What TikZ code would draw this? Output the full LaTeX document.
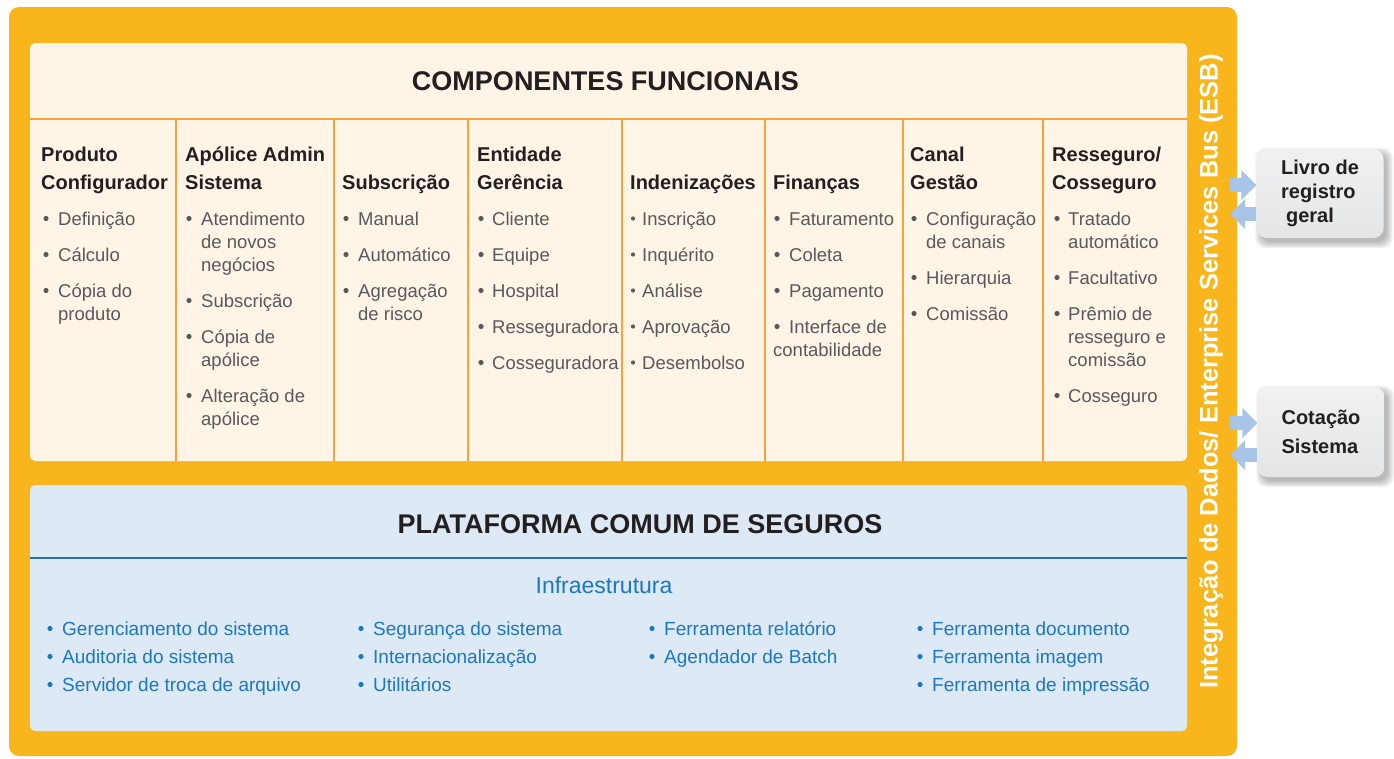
\documentclass[tikz,border=0pt]{standalone}
\usepackage{fontspec}
\setmainfont{Liberation Sans}
\usetikzlibrary{backgrounds,arrows.meta,calc}
\definecolor{orangebg}{HTML}{F8B61C}
\definecolor{cream}{HTML}{FEF5E7}
\definecolor{divider}{HTML}{F7A23B}
\definecolor{bluebg}{HTML}{DDEAF6}
\definecolor{blueline}{HTML}{2A6FBE}
\definecolor{bluetext}{HTML}{1C77C3}
\definecolor{darktext}{HTML}{231F20}
\definecolor{graytext}{HTML}{58595B}
\definecolor{boxgray}{HTML}{E4E5E6}
\definecolor{arrowblue}{HTML}{A8C4E7}
\newcommand\colhd[3]{\node[hdr] at (#1,#2) {#3};}
\newcommand\coltx[3]{\node[btx] at (#1,#2) {#3};}
\newcommand\coldot[2]{\fill[graytext] (#1,#2-6.5) circle[radius=2.6pt];}
\newcommand\smalldot[2]{\fill[graytext] (#1,#2-6.5) circle[radius=2.1pt];}
\newcommand\bluei[4]{\fill[bluetext] (#1,#3-6.5) circle[radius=2.6pt];\node[bitx] at (#2,#3) {#4};}
\begin{document}
\begin{tikzpicture}[x=1pt,y=-1pt,
  hdr/.style={anchor=base west, inner sep=0pt, font=\fontsize{20}{24}\selectfont\bfseries, text=darktext},
  btx/.style={anchor=base west, inner sep=0pt, font=\fontsize{18.5}{22}\selectfont, text=graytext},
  bitx/.style={anchor=base west, inner sep=0pt, font=\fontsize{19}{22}\selectfont, text=bluetext},
  titlef/.style={anchor=base, inner sep=0pt, font=\fontsize{27}{30}\selectfont\bfseries, text=darktext},
  sidebox/.style={draw=none, top color=boxgray!55!white, bottom color=boxgray, rounded corners=10pt,
    minimum width=127pt, minimum height=89pt,
    align=left, inner sep=0pt, text=darktext, font=\fontsize{20}{24}\selectfont\bfseries},
  flow/.style={draw=arrowblue, line width=13.5pt, -{Triangle[width=29pt,length=15pt]}}]
\useasboundingbox (0,0) rectangle (1394,758);

% outer orange frame
\fill[orangebg, rounded corners=10pt] (9,7) rectangle (1237,756);

% functional components
\fill[cream, rounded corners=5pt] (30,43) rectangle (1187,461);
\draw[divider, line width=2pt] (30,119) -- (1187,119);
\foreach \xx in {176,334,468,622,765,903,1043}
  \draw[divider, line width=2.5pt] (\xx,119) -- (\xx,461);
\node[titlef] (comp) at (605.5,90.5) {COMPONENTES FUNCIONAIS};

% column 1
\colhd{41}{161}{Produto}
\colhd{41}{189}{Configurador}
\coldot{46}{225}\coltx{58}{225}{Definição}
\coldot{46}{261}\coltx{58}{261}{Cálculo}
\coldot{46}{297}\coltx{58}{297}{Cópia do}\coltx{58}{320}{produto}

% column 2
\colhd{185}{161}{Apólice Admin}
\colhd{185}{189}{Sistema}
\coldot{189}{225}\coltx{201}{225}{Atendimento}\coltx{201}{248}{de novos}\coltx{201}{271}{negócios}
\coldot{189}{307}\coltx{201}{307}{Subscrição}
\coldot{189}{343}\coltx{201}{343}{Cópia de}\coltx{201}{366}{apólice}
\coldot{189}{402}\coltx{201}{402}{Alteração de}\coltx{201}{425}{apólice}

% column 3
\colhd{342}{189}{Subscrição}
\coldot{346}{225}\coltx{358}{225}{Manual}
\coldot{346}{261}\coltx{358}{261}{Automático}
\coldot{346}{297}\coltx{358}{297}{Agregação}\coltx{358}{320}{de risco}

% column 4
\colhd{477}{161}{Entidade}
\colhd{477}{189}{Gerência}
\coldot{481}{225}\coltx{492}{225}{Cliente}
\coldot{481}{261}\coltx{492}{261}{Equipe}
\coldot{481}{297}\coltx{492}{297}{Hospital}
\coldot{481}{333}\coltx{492}{333}{Resseguradora}
\coldot{481}{369}\coltx{492}{369}{Cosseguradora}

% column 5
\colhd{630}{189}{Indenizações}
\smalldot{633}{225}\coltx{642}{225}{Inscrição}
\smalldot{633}{261}\coltx{642}{261}{Inquérito}
\smalldot{633}{297}\coltx{642}{297}{Análise}
\smalldot{633}{333}\coltx{642}{333}{Aprovação}
\smalldot{633}{369}\coltx{642}{369}{Desembolso}

% column 6
\colhd{773}{189}{Finanças}
\coldot{777}{225}\coltx{789}{225}{Faturamento}
\coldot{777}{261}\coltx{789}{261}{Coleta}
\coldot{777}{297}\coltx{789}{297}{Pagamento}
\coldot{777}{333}\coltx{789}{333}{Interface de}\coltx{773}{356}{contabilidade}

% column 7
\colhd{910}{161}{Canal}
\colhd{910}{189}{Gestão}
\coldot{914}{225}\coltx{926}{225}{Configuração}\coltx{926}{248}{de canais}
\coldot{914}{284}\coltx{926}{284}{Hierarquia}
\coldot{914}{320}\coltx{926}{320}{Comissão}

% column 8
\colhd{1052}{161}{Resseguro/}
\colhd{1052}{189}{Cosseguro}
\coldot{1057}{225}\coltx{1068}{225}{Tratado}\coltx{1068}{248}{automático}
\coldot{1057}{284}\coltx{1068}{284}{Facultativo}
\coldot{1057}{320}\coltx{1068}{320}{Prêmio de}\coltx{1068}{343}{resseguro e}\coltx{1068}{366}{comissão}
\coldot{1057}{402}\coltx{1068}{402}{Cosseguro}

% common platform
\fill[bluebg, rounded corners=5pt] (30,485) rectangle (1187,731);
\draw[blueline, line width=2.2pt] (30,558) -- (1187,558);
\node[titlef] (plat) at (640,533) {PLATAFORMA COMUM DE SEGUROS};
\node[anchor=base, inner sep=0pt, font=\fontsize{23}{26}\selectfont, text=bluetext] (infra) at (604,593) {Infraestrutura};

\bluei{50}{62}{635}{Gerenciamento do sistema}
\bluei{50}{62}{663}{Auditoria do sistema}
\bluei{50}{62}{691}{Servidor de troca de arquivo}
\bluei{361}{373}{635}{Segurança do sistema}
\bluei{361}{373}{663}{Internacionalização}
\bluei{361}{373}{691}{Utilitários}
\bluei{652}{664}{635}{Ferramenta relatório}
\bluei{652}{664}{663}{Agendador de Batch}
\bluei{920}{932}{635}{Ferramenta documento}
\bluei{920}{932}{663}{Ferramenta imagem}
\bluei{920}{932}{691}{Ferramenta de impressão}

% ESB vertical label
\node[rotate=90, inner sep=0pt, text=white, font=\fontsize{25.5}{28}\selectfont\bfseries] (esb) at (1211,371.5)
  {Integração de Dados/ Enterprise Services Bus (ESB)};

% side systems
\node[sidebox] (livro) at (1320,193.5) {Livro de\\registro\\\hspace{5pt}geral};
\node[sidebox, font=\fontsize{20}{29}\selectfont\bfseries, minimum height=90pt] (cot) at (1321,432) {Cotação\\Sistema};

% soft shadows of the side boxes
\begin{scope}[on background layer]
  \foreach \n in {livro,cot}
    \foreach \s in {0,1.2,2.4,3.6,4.8,6}
      \fill[black, opacity=0.05, rounded corners=10pt]
        ($(\n.north west)+(5-\s,5-\s)$) rectangle ($(\n.south east)+(3+\s,4+\s)$);
\end{scope}

\coordinate (l1) at (1230,185);
\coordinate (l2) at (1230,214);
\coordinate (c1) at (1230,423);
\coordinate (c2) at (1230,455);
\draw[flow] (l1) -- (l1 -| livro.west);
\draw[flow] (l2 -| livro.west) -- (l2);
\draw[flow] (c1) -- (c1 -| cot.west);
\draw[flow] (c2 -| cot.west) -- (c2);
\end{tikzpicture}
\end{document}
